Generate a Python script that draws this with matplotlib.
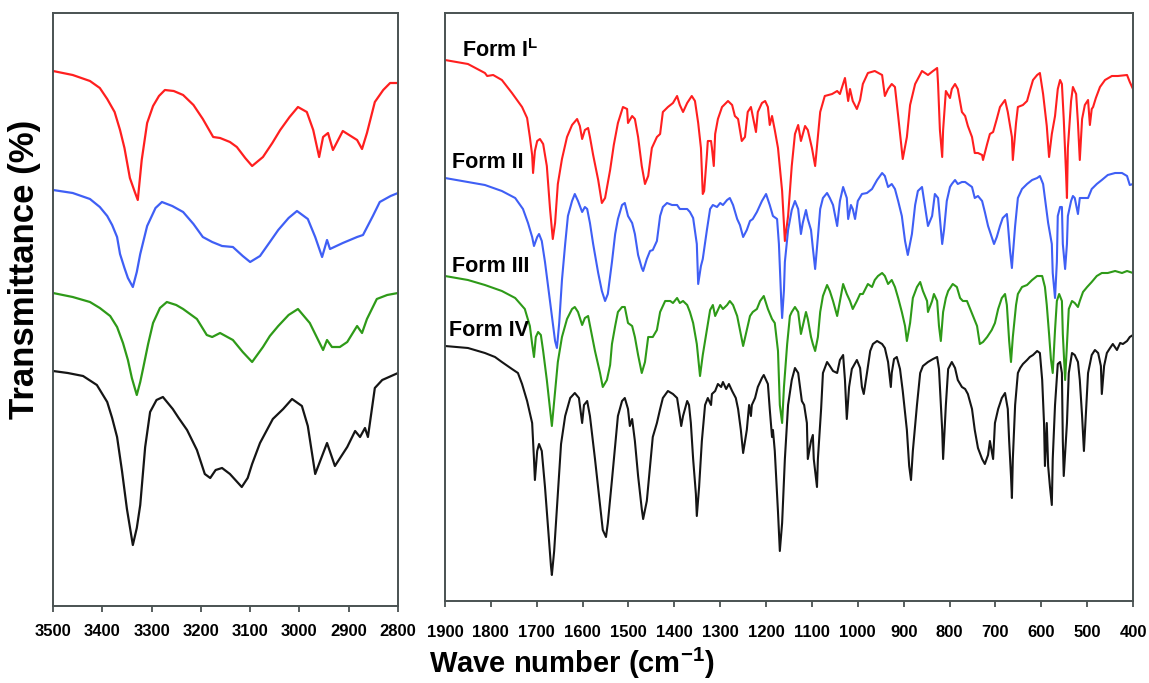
"""FT-IR spectra of the four forms, two wavenumber windows side by side."""
import matplotlib
matplotlib.use("Agg")
import matplotlib.pyplot as plt

plt.rcParams["font.family"] = ["Liberation Sans", "DejaVu Sans"]
plt.rcParams["mathtext.fontset"] = "custom"
plt.rcParams["mathtext.rm"] = "Liberation Sans"
plt.rcParams["mathtext.bf"] = "Liberation Sans:bold"

RED = "#FF1F1F"
BLUE = "#3F5FF5"
GREEN = "#2E9A18"
BLACK = "#151515"
SPINE = "#4A5252"

FORMS = [r"Form I$^{\mathbf{L}}$", "Form II", "Form III", "Form IV"]

LEFT_TICKS = [3500, 3400, 3300, 3200, 3100, 3000, 2900, 2800]
RIGHT_TICKS = [1900, 1800, 1700, 1600, 1500, 1400, 1300, 1200, 1100, 1000,
               900, 800, 700, 600, 500, 400]

# (wave number, transmittance in arbitrary offset units)
LEFT_FORM_I = [
    (3500, 539), (3460, 535), (3425, 529), (3405, 522), (3390, 511), (3375, 498),
    (3364, 480), (3355, 462), (3344, 432), (3334, 418), (3328, 410), (3320, 450),
    (3309, 487), (3297, 504), (3285, 514), (3273, 520), (3255, 519), (3236, 515),
    (3215, 505), (3196, 491), (3175, 473), (3161, 472), (3141, 468), (3127, 463),
    (3110, 452), (3096, 444), (3074, 453), (3055, 467), (3039, 480), (3020, 493),
    (3003, 503), (2985, 498), (2972, 480), (2960, 453), (2952, 473), (2942, 477),
    (2932, 460), (2912, 479), (2883, 470), (2873, 461), (2863, 477), (2847, 508),
    (2830, 520), (2816, 527), (2800, 527),
]
LEFT_FORM_II = [
    (3500, 420), (3460, 417), (3425, 411), (3405, 403), (3390, 394), (3380, 385),
    (3370, 373), (3364, 356), (3355, 342), (3348, 332), (3338, 323), (3330, 338),
    (3323, 356), (3309, 384), (3292, 402), (3279, 408), (3258, 404), (3236, 398),
    (3215, 386), (3196, 373), (3177, 368), (3157, 364), (3135, 363), (3115, 354),
    (3100, 348), (3080, 354), (3060, 368), (3043, 380), (3022, 392), (3005, 399),
    (2983, 391), (2968, 373), (2954, 353), (2944, 370), (2938, 361), (2912, 367),
    (2883, 373), (2871, 375), (2851, 394), (2837, 408), (2815, 414), (2800, 417),
]
LEFT_FORM_III = [
    (3500, 317), (3460, 313), (3425, 308), (3405, 302), (3384, 294), (3370, 283),
    (3358, 267), (3348, 250), (3340, 232), (3330, 215), (3323, 228), (3317, 242),
    (3307, 266), (3297, 287), (3283, 302), (3269, 308), (3250, 305), (3236, 301),
    (3208, 291), (3188, 275), (3177, 273), (3161, 277), (3135, 270), (3115, 258),
    (3096, 248), (3074, 263), (3060, 274), (3043, 284), (3022, 295), (3003, 301),
    (2979, 287), (2962, 270), (2952, 260), (2944, 270), (2934, 263), (2918, 263),
    (2903, 268), (2883, 284), (2873, 277), (2863, 291), (2843, 311), (2822, 315),
    (2800, 317),
]
LEFT_FORM_IV = [
    (3500, 239), (3470, 237), (3439, 234), (3411, 225), (3390, 208), (3380, 192),
    (3370, 173), (3360, 139), (3350, 101), (3338, 65), (3330, 82), (3323, 105),
    (3313, 163), (3303, 198), (3290, 210), (3277, 213), (3257, 201), (3245, 192),
    (3228, 180), (3208, 160), (3192, 136), (3181, 132), (3170, 140), (3157, 142),
    (3141, 136), (3117, 123), (3105, 132), (3096, 146), (3080, 167), (3054, 191),
    (3033, 201), (3015, 211), (2995, 204), (2983, 184), (2968, 136), (2944, 167),
    (2928, 144), (2903, 163), (2887, 179), (2877, 173), (2867, 182), (2861, 173),
    (2847, 222), (2832, 230), (2800, 237),
]

RIGHT_FORM_I = [
    (1900, 550), (1850, 546), (1813, 537), (1808, 534), (1795, 535), (1776, 530),
    (1754, 517), (1732, 503), (1721, 492), (1715, 473), (1710, 455), (1708, 437),
    (1704, 459), (1699, 469), (1693, 471), (1686, 466), (1678, 444), (1671, 401),
    (1665, 371), (1660, 387), (1654, 426), (1645, 451), (1634, 473), (1623, 485),
    (1612, 491), (1606, 484), (1601, 471), (1595, 480), (1588, 482), (1584, 473),
    (1577, 455), (1566, 430), (1558, 407), (1551, 412), (1540, 440), (1532, 465),
    (1523, 487), (1512, 503), (1503, 501), (1501, 487), (1492, 494), (1486, 491),
    (1479, 473), (1471, 444), (1464, 426), (1457, 434), (1449, 462), (1438, 473),
    (1431, 476), (1425, 498), (1414, 503), (1403, 507), (1394, 514), (1388, 505),
    (1381, 498), (1372, 507), (1362, 514), (1355, 509), (1348, 487), (1342, 462),
    (1338, 416), (1335, 419), (1329, 455), (1327, 469), (1320, 469), (1318, 462),
    (1314, 444), (1311, 476), (1305, 491), (1296, 503), (1283, 509), (1274, 505),
    (1268, 494), (1261, 491), (1253, 469), (1246, 473), (1240, 498), (1233, 503),
    (1229, 494), (1222, 478), (1218, 498), (1209, 507), (1202, 509), (1196, 503),
    (1192, 485), (1187, 494), (1181, 480), (1174, 462), (1165, 419), (1159, 369),
    (1152, 394), (1144, 444), (1137, 476), (1130, 485), (1124, 469), (1115, 484),
    (1109, 480), (1100, 462), (1093, 444), (1087, 473), (1082, 498), (1072, 514),
    (1056, 516), (1045, 519), (1039, 516), (1028, 532), (1021, 509), (1017, 521),
    (1011, 509), (1002, 501), (995, 510), (989, 526), (978, 537), (963, 539),
    (947, 535), (941, 514), (934, 521), (926, 526), (919, 523), (912, 494),
    (902, 451), (893, 473), (886, 505), (875, 526), (860, 539), (847, 535),
    (836, 539), (827, 542), (825, 526), (821, 480), (816, 453), (814, 480),
    (808, 519), (799, 512), (795, 521), (788, 526), (782, 521), (773, 498),
    (766, 494), (760, 484), (751, 473), (745, 457), (738, 457), (729, 455),
    (727, 450), (718, 466), (712, 476), (705, 478), (697, 491), (690, 503),
    (679, 510), (673, 498), (664, 473), (662, 450), (655, 487), (651, 503),
    (640, 505), (631, 509), (625, 519), (618, 530), (609, 535), (603, 537),
    (596, 516), (588, 484), (583, 453), (577, 476), (570, 494), (564, 521),
    (559, 530), (555, 526), (551, 491), (546, 437), (544, 412), (542, 462),
    (535, 509), (531, 523), (524, 516), (520, 487), (516, 450), (511, 491),
    (505, 505), (498, 510), (494, 485), (490, 501), (487, 503), (481, 512),
    (472, 523), (461, 530), (446, 534), (433, 534), (413, 535), (407, 528),
    (400, 521),
]
RIGHT_FORM_II = [
    (1900, 432), (1850, 428), (1813, 425), (1776, 419), (1747, 412), (1730, 401),
    (1719, 387), (1710, 373), (1706, 364), (1699, 373), (1695, 376), (1689, 369),
    (1682, 348), (1675, 323), (1667, 294), (1660, 269), (1656, 262), (1651, 287),
    (1645, 330), (1638, 366), (1632, 394), (1623, 409), (1617, 416), (1610, 409),
    (1601, 398), (1595, 403), (1590, 401), (1584, 387), (1577, 366), (1566, 337),
    (1558, 319), (1551, 309), (1545, 316), (1536, 348), (1529, 376), (1523, 391),
    (1514, 405), (1508, 407), (1501, 394), (1492, 387), (1486, 376), (1479, 355),
    (1471, 342), (1468, 339), (1460, 351), (1453, 359), (1447, 360), (1438, 369),
    (1431, 394), (1425, 403), (1416, 407), (1405, 405), (1394, 405), (1388, 401),
    (1381, 401), (1372, 401), (1366, 398), (1359, 392), (1351, 366), (1348, 326),
    (1342, 344), (1338, 351), (1329, 380), (1322, 401), (1316, 405), (1307, 403),
    (1300, 407), (1294, 405), (1285, 410), (1279, 412), (1272, 405), (1263, 391),
    (1257, 385), (1250, 373), (1242, 380), (1235, 389), (1229, 391), (1220, 398),
    (1209, 409), (1200, 416), (1192, 405), (1185, 394), (1176, 391), (1172, 366),
    (1167, 310), (1165, 292), (1161, 320), (1159, 348), (1152, 380), (1144, 400),
    (1137, 409), (1130, 401), (1124, 376), (1120, 387), (1113, 400), (1109, 391),
    (1102, 380), (1098, 362), (1093, 341), (1087, 373), (1082, 401), (1076, 412),
    (1067, 417), (1061, 412), (1054, 405), (1045, 384), (1039, 409), (1032, 423),
    (1024, 412), (1021, 391), (1015, 405), (1011, 401), (1006, 391), (1000, 409),
    (991, 416), (980, 417), (969, 421), (958, 430), (947, 437), (941, 434),
    (934, 423), (926, 426), (919, 421), (912, 409), (904, 394), (897, 369),
    (891, 355), (882, 376), (875, 405), (869, 419), (860, 423), (854, 405),
    (847, 384), (838, 394), (832, 416), (825, 412), (816, 366), (812, 380),
    (806, 409), (799, 423), (795, 426), (788, 430), (782, 426), (773, 428),
    (766, 428), (760, 426), (751, 423), (745, 412), (738, 414), (729, 409),
    (723, 398), (716, 384), (708, 373), (703, 366), (697, 373), (690, 384),
    (684, 392), (675, 396), (673, 387), (668, 359), (664, 342), (662, 355),
    (657, 384), (651, 412), (642, 421), (631, 426), (620, 430), (609, 432),
    (603, 434), (596, 426), (592, 412), (585, 387), (577, 366), (575, 337),
    (570, 312), (566, 348), (564, 394), (559, 403), (555, 403), (553, 366),
    (548, 341), (544, 366), (542, 394), (535, 409), (531, 414), (527, 412),
    (520, 396), (516, 412), (509, 412), (498, 412), (490, 421), (479, 426),
    (468, 430), (455, 435), (439, 437), (424, 437), (413, 434), (407, 425),
    (400, 426),
]
RIGHT_FORM_III = [
    (1900, 334), (1850, 330), (1813, 325), (1776, 319), (1747, 312), (1726, 301),
    (1715, 284), (1710, 266), (1706, 253), (1702, 273), (1697, 278), (1691, 275),
    (1686, 259), (1678, 230), (1671, 201), (1667, 184), (1662, 209), (1654, 248),
    (1645, 273), (1634, 291), (1623, 301), (1617, 303), (1610, 298), (1601, 285),
    (1595, 292), (1588, 294), (1582, 280), (1573, 259), (1562, 237), (1556, 223),
    (1547, 230), (1540, 245), (1536, 266), (1529, 284), (1523, 298), (1514, 303),
    (1508, 303), (1501, 287), (1492, 284), (1486, 273), (1479, 255), (1471, 237),
    (1464, 248), (1457, 273), (1447, 273), (1438, 280), (1431, 298), (1420, 309),
    (1409, 309), (1403, 307), (1394, 312), (1388, 307), (1381, 309), (1372, 305),
    (1366, 298), (1359, 287), (1351, 266), (1344, 234), (1338, 255), (1329, 280),
    (1322, 300), (1316, 305), (1311, 294), (1307, 298), (1300, 305), (1294, 301),
    (1285, 305), (1279, 309), (1272, 305), (1263, 294), (1257, 280), (1250, 264),
    (1242, 280), (1235, 294), (1229, 298), (1220, 301), (1213, 309), (1205, 314),
    (1196, 301), (1187, 291), (1181, 287), (1174, 259), (1170, 205), (1165, 187),
    (1161, 223), (1154, 266), (1148, 294), (1144, 298), (1137, 303), (1130, 298),
    (1124, 276), (1120, 284), (1113, 298), (1109, 291), (1102, 273), (1098, 266),
    (1093, 259), (1087, 273), (1082, 298), (1076, 314), (1067, 325), (1061, 319),
    (1054, 309), (1045, 294), (1039, 309), (1032, 326), (1024, 316), (1017, 309),
    (1011, 301), (1002, 309), (995, 316), (989, 316), (978, 326), (969, 323),
    (963, 330), (956, 334), (947, 337), (941, 334), (934, 326), (926, 330),
    (919, 323), (912, 312), (904, 298), (897, 284), (893, 269), (886, 287),
    (880, 312), (871, 323), (864, 328), (858, 319), (849, 309), (847, 298),
    (838, 309), (834, 316), (827, 309), (823, 284), (819, 269), (814, 298),
    (808, 312), (803, 319), (793, 326), (784, 323), (777, 312), (771, 309),
    (762, 309), (755, 301), (749, 294), (740, 284), (734, 266), (727, 268),
    (718, 273), (708, 280), (701, 287), (694, 301), (686, 312), (679, 316),
    (675, 305), (670, 269), (666, 248), (662, 273), (655, 305), (651, 316),
    (642, 323), (631, 325), (620, 330), (609, 334), (598, 334), (592, 323),
    (588, 305), (583, 276), (579, 251), (575, 237), (570, 280), (566, 309),
    (561, 316), (555, 309), (553, 276), (548, 230), (544, 266), (540, 301),
    (533, 309), (527, 307), (520, 303), (516, 309), (509, 318), (500, 323),
    (490, 328), (479, 334), (468, 337), (455, 337), (439, 339), (424, 337),
    (413, 339), (400, 337),
]
RIGHT_FORM_IV = [
    (1900, 264), (1850, 262), (1813, 257), (1791, 253), (1776, 248), (1754, 241),
    (1741, 237), (1732, 226), (1721, 209), (1710, 187), (1706, 151), (1704, 130),
    (1699, 159), (1695, 166), (1689, 159), (1682, 123), (1675, 80), (1669, 44),
    (1667, 35), (1662, 59), (1654, 116), (1647, 166), (1638, 194), (1627, 212),
    (1617, 217), (1608, 212), (1601, 187), (1597, 205), (1590, 209), (1584, 194),
    (1573, 151), (1562, 105), (1556, 80), (1549, 73), (1545, 87), (1536, 130),
    (1529, 165), (1523, 194), (1514, 209), (1508, 212), (1501, 201), (1497, 184),
    (1492, 191), (1486, 169), (1479, 134), (1471, 101), (1468, 91), (1460, 109),
    (1453, 144), (1447, 173), (1438, 187), (1431, 201), (1425, 212), (1414, 219),
    (1403, 216), (1394, 212), (1388, 194), (1385, 184), (1381, 194), (1372, 209),
    (1368, 205), (1364, 187), (1359, 151), (1353, 116), (1351, 94), (1346, 123),
    (1340, 169), (1333, 205), (1327, 212), (1320, 205), (1318, 216), (1311, 219),
    (1305, 226), (1298, 223), (1294, 228), (1287, 221), (1281, 226), (1274, 219),
    (1266, 212), (1261, 201), (1255, 180), (1250, 157), (1242, 180), (1237, 205),
    (1233, 194), (1231, 205), (1224, 212), (1218, 223), (1209, 232), (1205, 235),
    (1196, 226), (1192, 201), (1187, 173), (1185, 180), (1181, 159), (1174, 98),
    (1170, 59), (1165, 87), (1159, 151), (1152, 205), (1144, 230), (1137, 242),
    (1130, 237), (1122, 209), (1117, 205), (1111, 187), (1109, 151), (1102, 169),
    (1098, 175), (1096, 151), (1089, 123), (1087, 151), (1080, 201), (1076, 237),
    (1067, 248), (1061, 244), (1054, 239), (1045, 237), (1039, 250), (1032, 255),
    (1028, 230), (1024, 191), (1019, 223), (1013, 241), (1002, 250), (995, 242),
    (991, 223), (987, 216), (980, 237), (973, 259), (967, 266), (958, 269),
    (947, 266), (941, 262), (934, 248), (928, 223), (926, 237), (921, 251),
    (915, 253), (908, 241), (902, 219), (893, 180), (888, 144), (884, 130),
    (880, 159), (871, 205), (864, 237), (858, 244), (847, 248), (836, 251),
    (827, 253), (823, 241), (816, 180), (814, 151), (808, 205), (803, 241),
    (795, 248), (788, 242), (782, 230), (773, 223), (766, 221), (760, 216),
    (751, 201), (745, 180), (738, 162), (729, 151), (723, 146), (716, 155),
    (712, 169), (708, 159), (705, 151), (701, 187), (694, 201), (686, 212),
    (679, 217), (673, 201), (670, 169), (666, 134), (664, 112), (662, 151),
    (657, 205), (651, 237), (646, 242), (640, 246), (631, 250), (625, 253),
    (618, 255), (609, 259), (603, 257), (598, 230), (594, 187), (592, 144),
    (588, 187), (585, 144), (581, 123), (577, 105), (575, 151), (570, 205),
    (564, 246), (559, 248), (555, 237), (553, 169), (551, 134), (544, 187),
    (540, 237), (533, 257), (527, 255), (520, 248), (516, 230), (511, 194),
    (507, 159), (503, 194), (498, 237), (490, 255), (483, 260), (476, 257),
    (470, 244), (468, 216), (463, 244), (457, 257), (450, 262), (444, 266),
    (435, 260), (428, 267), (422, 266), (413, 269), (407, 273), (400, 275),
]

W, H = 1149, 683


def _style(ax, ticks, xlim, ylim, pad):
    ax.set_xlim(*xlim)
    ax.set_ylim(*ylim)
    ax.set_yticks([])
    ax.set_xticks(ticks)
    ax.set_xticklabels([str(t) for t in ticks], fontweight="bold", fontsize=12)
    ax.tick_params(axis="x", direction="out", length=4, width=1.3,
                   color=SPINE, pad=pad)
    for sp in ax.spines.values():
        sp.set_color(SPINE)
        sp.set_linewidth(1.4)


def main():
    fig = plt.figure(figsize=(W / 100, H / 100), dpi=100)
    ax_l = fig.add_axes([53 / W, 1 - 606 / H, 345 / W, 593 / H])
    ax_r = fig.add_axes([445 / W, 1 - 601 / H, 688 / W, 588 / H])

    colors = [RED, BLUE, GREEN, BLACK]
    left = [LEFT_FORM_I, LEFT_FORM_II, LEFT_FORM_III, LEFT_FORM_IV]
    right = [RIGHT_FORM_I, RIGHT_FORM_II, RIGHT_FORM_III, RIGHT_FORM_IV]
    for col, lser, rser in zip(colors, left, right):
        x, y = zip(*lser)
        ax_l.plot(x, y, color=col, lw=1.6, solid_joinstyle="round")
        x, y = zip(*rser)
        ax_r.plot(x, y, color=col, lw=1.5, solid_joinstyle="round")

    _style(ax_l, LEFT_TICKS, (3500, 2800), (4, 597), pad=9)
    _style(ax_r, RIGHT_TICKS, (1900, 400), (9, 597), pad=13)

    # form labels, placed in figure pixels
    for name, (px, py) in zip(FORMS, [(462, 51), (452, 162), (452, 266), (449, 330)]):
        fig.text(px / W, 1 - py / H, name, ha="left", va="center",
                 fontsize=15.5, fontweight="bold")

    fig.text(25 / W, 1 - 269 / H, "Transmittance (%)", rotation=90,
             ha="center", va="center", fontsize=25, fontweight="bold")
    fig.text(572 / W, 1 - 663 / H, r"Wave number (cm$^{\mathbf{-1}}$)",
             ha="center", va="center", fontsize=21, fontweight="bold")

    fig.savefig("out.png", dpi=100)


if __name__ == "__main__":
    main()
